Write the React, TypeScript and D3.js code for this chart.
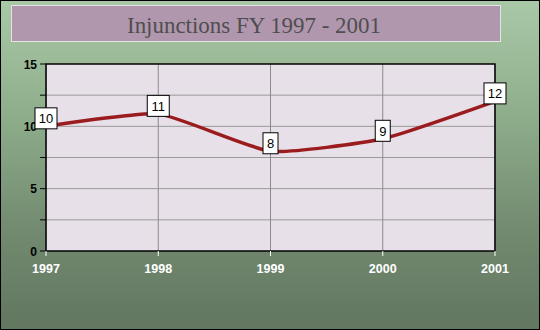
import React from "react";
import * as d3 from "d3";

const years = ["1997", "1998", "1999", "2000", "2001"];
const values = [10, 11, 8, 9, 12];
const yTicks = [0, 5, 10, 15];
const yGrid = [2.5, 5, 7.5, 10, 12.5];
const title = "Injunctions FY 1997 - 2001";

export default function App() {
  const W = 540, H = 330;
  const left = 46, right = 495, top = 64, bottom = 251;
  const x = d3.scalePoint<string>().domain(years).range([left, right]);
  const y = d3.scaleLinear().domain([0, 15]).range([bottom, top]);
  const line = d3
    .line<number>()
    .x((_, i) => x(years[i]) as number)
    .y((d) => y(d))
    .curve(d3.curveCardinal.tension(0.5));
  return (
    <svg
      width={W}
      height={H}
      style={{ position: "absolute", left: 0, top: 0 }}
    >
      <defs>
        <linearGradient id="bg" x1="0" y1="0" x2="0" y2="1">
          <stop offset="0" stopColor="#a9c8a7" />
          <stop offset="0.35" stopColor="#8eae8b" />
          <stop offset="0.7" stopColor="#728a70" />
          <stop offset="1" stopColor="#627660" />
        </linearGradient>
      </defs>
      <rect x={0.5} y={0.5} width={W - 1} height={H - 1} fill="url(#bg)" stroke="#000" />
      <rect x={11.5} y={5.5} width={489} height={36} fill="#b097ae" stroke="#e4e4e4" strokeWidth={1} />
      <text
        x={254}
        y={33}
        textAnchor="middle"
        fontFamily="'Liberation Serif', 'Times New Roman', serif"
        fontSize={24}
        textLength={254}
        lengthAdjust="spacingAndGlyphs"
        fill="#4e4e4e"
      >
        {title}
      </text>
      <rect x={left} y={top} width={right - left} height={bottom - top} fill="#e8e0e8" />
      {yGrid.map((v) => (
        <line key={"g" + v} x1={left} x2={right} y1={y(v)} y2={y(v)} stroke="#9a9a9a" strokeWidth={1} />
      ))}
      {years.map((yr) => (
        <line key={"v" + yr} x1={x(yr)} x2={x(yr)} y1={top} y2={bottom} stroke="#8a8a8a" strokeWidth={1} />
      ))}
      <rect x={left} y={top} width={right - left} height={bottom - top} fill="none" stroke="#000" strokeWidth={1.5} />
      {yGrid.concat([0, 15]).map((v) => (
        <line key={"t" + v} x1={left - 6} x2={left} y1={y(v)} y2={y(v)} stroke="#000" strokeWidth={1} />
      ))}
      {yTicks.map((v) => (
        <text
          key={"l" + v}
          x={37}
          y={y(v) + 4.5}
          textAnchor="end"
          fontFamily="'Liberation Sans', Arial, sans-serif"
          fontWeight="bold"
          fontSize={12}
          fill="#000"
        >
          {v}
        </text>
      ))}
      {years.map((yr) => (
        <g key={"x" + yr}>
          <line x1={x(yr)} x2={x(yr)} y1={bottom} y2={bottom + 5} stroke="#fff" strokeWidth={1} />
          <text
            x={x(yr)}
            y={273}
            textAnchor="middle"
            fontFamily="'Liberation Sans', Arial, sans-serif"
            fontWeight="bold"
            fontSize={12.5}
            fill="#fff"
          >
            {yr}
          </text>
        </g>
      ))}
      <path d={line(values) || ""} fill="none" stroke="#9b1c1f" strokeWidth={3.5} />
      {values.map((v, i) => {
        const s = String(v);
        const w = s.length > 1 ? 22 : 15;
        const cx = x(years[i]) as number;
        const cy = y(v) - 8;
        return (
          <g key={"lab" + i}>
            <rect x={cx - w / 2} y={cy - 10.5} width={w} height={21} fill="#fff" stroke="#000" strokeWidth={1} />
            <text
              x={cx}
              y={cy + 5}
              textAnchor="middle"
              fontFamily="'Liberation Sans', Arial, sans-serif"
              fontSize={13}
              fill="#000"
            >
              {s}
            </text>
          </g>
        );
      })}
    </svg>
  );
}
